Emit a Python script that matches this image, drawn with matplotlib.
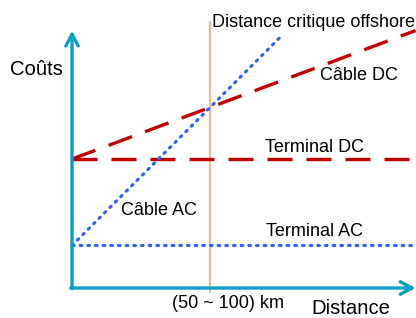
import matplotlib
matplotlib.use('Agg')
import matplotlib.pyplot as plt

plt.rcParams['font.family'] = ['Liberation Sans', 'DejaVu Sans']

# diagram units: critical distance = 1, DC terminal cost = 1
x_end = 2.49
x_ac_end = 1.53
terminal_ac = 0.33
terminal_dc = 1.0
slope_ac = 1.07
slope_dc = 0.40
x_critique = 1.0

teal = '#0A9EC4'
red = '#C00000'
blue = '#2E62F5'
orange = '#F9A56A'

fig = plt.figure(figsize=(4.16, 3.18), dpi=100)
ax = fig.add_axes([0, 0, 1, 1])
ax.set_xlim(-0.522, 2.493)
ax.set_ylim(-0.2326, 2.233)
ax.axis('off')

dc_style = dict(color=red, lw=2.4, dashes=(7.5, 4.2), zorder=3)
ac_style = dict(color=blue, lw=2.3, linestyle=(0, (0.5, 1.9)),
                dash_capstyle='round', zorder=3)

# critical distance marker
ax.plot([x_critique, x_critique], [-0.03, 2.06], color=orange, lw=1.2, zorder=1)

# terminals
ax.plot([0, x_end], [terminal_dc, terminal_dc], **dc_style)
ax.plot([0, x_end], [terminal_ac, terminal_ac], **ac_style)

# cables
ax.plot([0, x_end], [terminal_dc, terminal_dc + slope_dc * x_end], **dc_style)
ax.plot([0, x_ac_end], [terminal_ac, terminal_ac + slope_ac * x_ac_end], **ac_style)

# axes arrows
head = '->,head_length=0.85,head_width=0.45'
ax.annotate('', xy=(0, 1.995), xytext=(0, -0.005),
            arrowprops=dict(arrowstyle=head, color=teal, lw=2.4,
                            shrinkA=0, shrinkB=0))
ax.annotate('', xy=(x_end, 0), xytext=(-0.01, 0),
            arrowprops=dict(arrowstyle=head, color=teal, lw=2.4,
                            shrinkA=0, shrinkB=0))

fs = 13
big = 14.6
ax.text(-0.449, 1.651, 'Coûts', fontsize=big, ha='left', va='baseline')
ax.text(1.012, 2.026, 'Distance critique offshore', fontsize=fs, ha='left', va='baseline')
ax.text(1.797, 1.612, 'Câble DC', fontsize=fs, ha='left', va='baseline')
ax.text(1.399, 1.057, 'Terminal DC', fontsize=fs, ha='left', va='baseline')
ax.text(0.353, 0.566, 'Câble AC', fontsize=fs, ha='left', va='baseline')
ax.text(1.406, 0.403, 'Terminal AC', fontsize=fs, ha='left', va='baseline')
ax.text(0.722, -0.155, '(50 ~ 100) km', fontsize=fs, ha='left', va='baseline')
ax.text(1.732, -0.205, 'Distance', fontsize=big, ha='left', va='baseline')

fig.savefig('out.png', dpi=100)
